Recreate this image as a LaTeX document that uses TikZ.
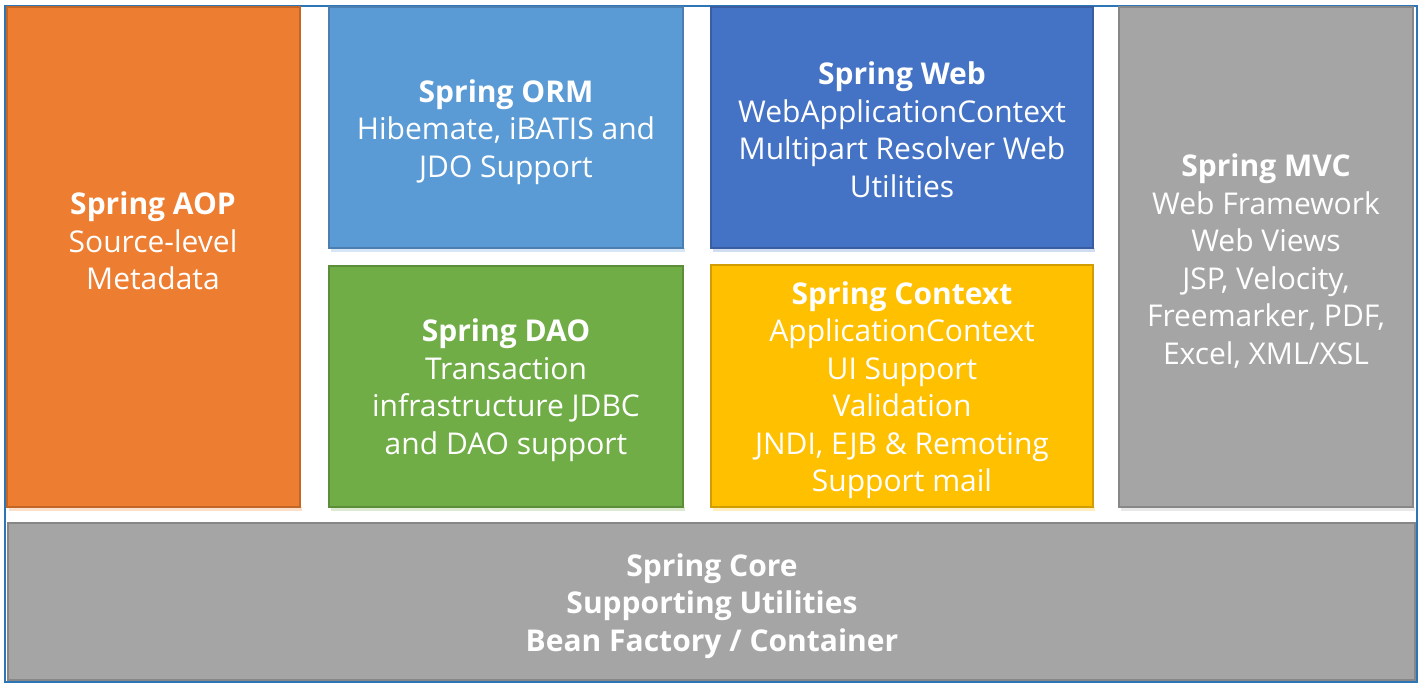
\documentclass[tikz,border=0pt]{standalone}
\usepackage{fontspec}
\setmainfont{Open Sans}
\definecolor{aopC}{HTML}{ED7D31}
\definecolor{ormC}{HTML}{5B9BD5}
\definecolor{webC}{HTML}{4472C4}
\definecolor{daoC}{HTML}{70AD47}
\definecolor{ctxC}{HTML}{FFC000}
\definecolor{grayC}{HTML}{A5A5A5}
\definecolor{frameC}{HTML}{2E75B6}
\tikzset{
  blk/.style={draw=#1!82!black, fill=#1, line width=1.2pt},
  shd/.style={fill=#1!25!white, draw=none},
  txt/.style={text=white, align=center, inner sep=0pt,
    font=\fontsize{15}{18.75}\selectfont},
}
\begin{document}
\begin{tikzpicture}[x=0.5pt,y=-0.5pt]
\useasboundingbox (0,0) rectangle (1427,689);
% outer frame
\draw[frameC, line width=1pt] (5,6) rectangle (1417,682);
% soft shadows
\fill[shd=aopC] (9,507) rectangle (302,511);
\fill[shd=daoC] (331,507) rectangle (685,511);
\fill[shd=ctxC] (713,507) rectangle (1095,511);
\fill[shd=grayC] (1121,507) rectangle (1415,511);
\fill[shd=ormC] (331,248) rectangle (685,252);
\fill[shd=webC] (713,248) rectangle (1095,252);
% boxes
\draw[blk=aopC] (7,7) rectangle (300,507);
\draw[blk=ormC] (329,7) rectangle (683,248);
\draw[blk=webC] (711,7) rectangle (1093,248);
\draw[blk=daoC] (329,266) rectangle (683,507);
\draw[blk=ctxC] (711,265) rectangle (1093,507);
\draw[blk=grayC] (1119,7) rectangle (1413,507);
\draw[blk=grayC] (8,523) rectangle (1415,680);
% texts
\node[txt] (aop) at (153,241) {\textbf{Spring AOP}\\Source-level\\Metadata};
\node[txt] (orm) at (506,132) {\textbf{Spring ORM}\\Hibemate, iBATIS and\\JDO Support};
\node[txt] (web) at (902,130) {\textbf{Spring Web}\\WebApplicationContext\\Multipart Resolver Web\\Utilities};
\node[txt] (dao) at (506,390) {\textbf{Spring DAO}\\Transaction\\infrastructure JDBC\\and DAO support};
\node[txt] (ctx) at (902,390) {\textbf{Spring Context}\\ApplicationContext\\UI Support\\Validation\\JNDI, EJB \& Remoting\\Support mail};
\node[txt] (mvc) at (1266,261) {\textbf{Spring MVC}\\Web Framework\\Web Views\\JSP, Velocity,\\Freemarker, PDF,\\Excel, XML/XSL};
\node[txt] (core) at (712,606) {\textbf{Spring Core}\\\textbf{Supporting Utilities}\\\textbf{Bean Factory / Container}};
\end{tikzpicture}
\end{document}
